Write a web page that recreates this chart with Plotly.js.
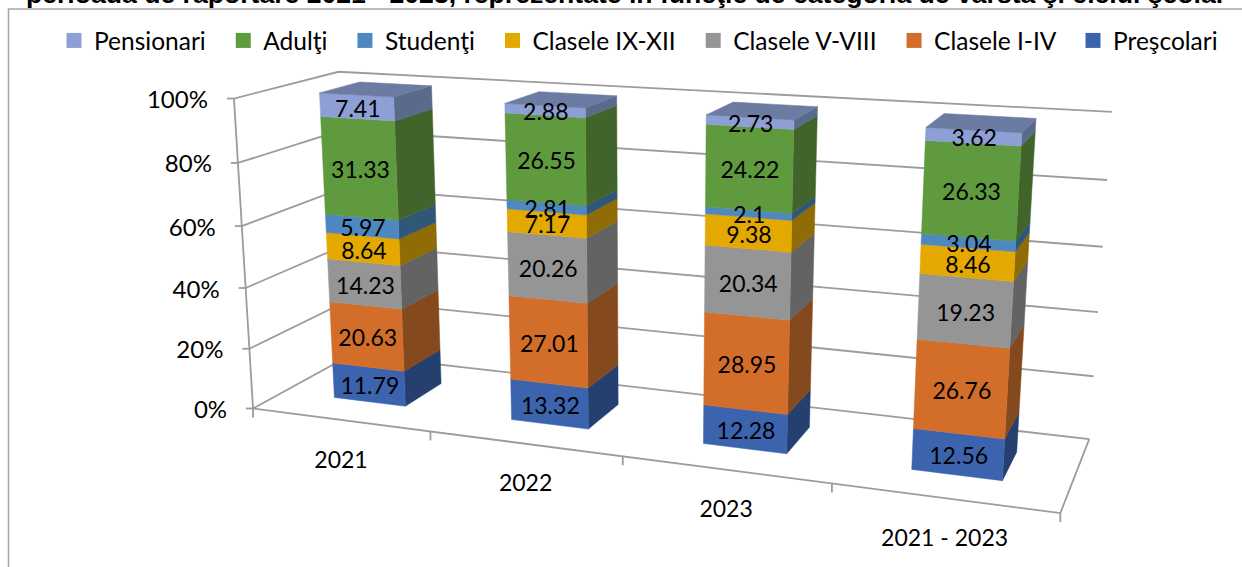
<!DOCTYPE html>
<html><head><meta charset="utf-8">
<script src="https://cdn.plot.ly/plotly-3.0.1.min.js"></script>
<style>html,body{margin:0;padding:0;background:#fff;overflow:hidden}</style>
</head><body><div id="chart" style="width:1242px;height:567px"></div>
<script>
// ---------- data ----------
const categories = ["2021", "2022", "2023", "2021 - 2023"];
const preScolari  = [11.79, 13.32, 12.28, 12.56];
const claseleI    = [20.63, 27.01, 28.95, 26.76];
const claseleV    = [14.23, 20.26, 20.34, 19.23];
const claseleIX   = [8.64, 7.17, 9.38, 8.46];
const studenti    = [5.97, 2.81, 2.1, 3.04];
const adulti      = [31.33, 26.55, 24.22, 26.33];
const pensionari  = [7.41, 2.88, 2.73, 3.62];
const yTicks = [0, 20, 40, 60, 80, 100];
const titleText = "perioada de raportare 2021 - 2023, reprezentate în funcţie de categoria de vârstă şi ciclul şcolar";

// bottom to top
const stack = [
  {name:"Preşcolari",   v:preScolari, front:"#3C64AE", side:"#25406F"},
  {name:"Clasele I-IV", v:claseleI,   front:"#D26D2A", side:"#84491D"},
  {name:"Clasele V-VIII",v:claseleV,  front:"#959595", side:"#636363"},
  {name:"Clasele IX-XII",v:claseleIX, front:"#E3A900", side:"#8F6C05"},
  {name:"Studenţi",     v:studenti,   front:"#4E88BE", side:"#2F5878"},
  {name:"Adulţi",       v:adulti,     front:"#5F9A3F", side:"#41642B"},
  {name:"Pensionari",   v:pensionari, front:"#8E9FD5", side:"#5A6A8A", top:"#6B7BA1"}
];

// ---------- perspective scale: plot-box (x 0..1, pct/100, depth 0..1) -> page px ----------
const boxAnchors = [
  [0,0,0,254,408],[1,0,0,1060,514],[1,0,1,1090,438],[0,0,1,350,355],
  [0,1,0,232,98],[0,1,1,340,72],[1,1,1,1112,112],
  [0,.8,0,238,163],[0,.6,0,243,226],[0,.4,0,245,288],[0,.2,0,250,349],
  [1,.8,1,1107,180],[1,.6,1,1102,247]
];
function solve(A,b){const n=b.length;for(let i=0;i<n;i++){let m=i;for(let r=i+1;r<n;r++)if(Math.abs(A[r][i])>Math.abs(A[m][i]))m=r;
  [A[i],A[m]]=[A[m],A[i]];[b[i],b[m]]=[b[m],b[i]];for(let r=i+1;r<n;r++){const f=A[r][i]/A[i][i];for(let c=i;c<n;c++)A[r][c]-=f*A[i][c];b[r]-=f*b[i];}}
  const x=Array(n).fill(0);for(let i=n-1;i>=0;i--){let s=b[i];for(let c=i+1;c<n;c++)s-=A[i][c]*x[c];x[i]=s/A[i][i];}return x;}
function fit(){const rows=[],rhs=[];boxAnchors.forEach(([X,Y,Z,u0,v0])=>{const u=u0/1000,v=v0/1000;
  rows.push([X,Y,Z,1,0,0,0,0,-u*X,-u*Y,-u*Z]);rhs.push(u);rows.push([0,0,0,0,X,Y,Z,1,-v*X,-v*Y,-v*Z]);rhs.push(v);});
  const n=11,A=[...Array(n)].map(()=>Array(n).fill(0)),b=Array(n).fill(0);
  rows.forEach((r,k)=>{for(let i=0;i<n;i++){b[i]+=r[i]*rhs[k];for(let j=0;j<n;j++)A[i][j]+=r[i]*r[j];}});return solve(A,b);}
const P=fit();
function proj(x,pct,z){const y=pct/100,w=P[8]*x+P[9]*y+P[10]*z+1;
  return [1000*(P[0]*x+P[1]*y+P[2]*z+P[3])/w,1000*(P[4]*x+P[5]*y+P[6]*z+P[7])/w];}

// ---------- bar layout ----------
const nCat=categories.length, barFrac=0.41, depth0=0.3, depth1=0.7;
const xEdges=i=>{const c=(i+.5)/nCat,h=barFrac/nCat/2;return [c-h,c+h];};

function poly(pts){const xs=[],ys=[];pts.forEach(p=>{xs.push(p[0]);ys.push(p[1]);});xs.push(pts[0][0],null);ys.push(pts[0][1],null);return [xs,ys];}
function fillTrace(polys,color){let x=[],y=[];polys.forEach(p=>{const[a,b]=poly(p);x=x.concat(a);y=y.concat(b);});
  return {x,y,type:"scatter",mode:"lines",fill:"toself",fillcolor:color,line:{color:color,width:0.5},hoverinfo:"skip",showlegend:false};}
function lineTrace(segs,w){let x=[],y=[];segs.forEach(s=>{s.forEach(p=>{x.push(p[0]);y.push(p[1]);});x.push(null);y.push(null);});
  return {x,y,type:"scatter",mode:"lines",line:{color:"#9C9C9C",width:w||2},hoverinfo:"skip",showlegend:false};}

const traces=[];
// walls and floor
const grid=[];
yTicks.forEach(t=>{grid.push([proj(0,t,0),proj(0,t,1),proj(1,t,1)]);grid.push([proj(0,t,0),(p=>[p[0]-7,p[1]])(proj(0,t,0))]);});
grid.push([proj(0,0,0),proj(0,100,0)]);
grid.push([proj(0,0,0),proj(1,0,0),proj(1,0,1)]);
for(let i=0;i<=nCat;i++){const p=proj(i/nCat,0,0);grid.push([p,[p[0],p[1]+9]]);}
traces.push(lineTrace(grid,1.8));

// bars
stack.forEach((s,k)=>{
  const fr=[],si=[],to=[];
  categories.forEach((c,i)=>{
    const base=stack.slice(0,k).reduce((a,t)=>a+t.v[i],0),top=base+s.v[i],[x0,x1]=xEdges(i);
    fr.push([proj(x0,base,depth0),proj(x1,base,depth0),proj(x1,top,depth0),proj(x0,top,depth0)]);
    si.push([proj(x1,base,depth0),proj(x1,base,depth1),proj(x1,top,depth1),proj(x1,top,depth0)]);
    if(s.top)to.push([proj(x0,top,depth0),proj(x1,top,depth0),proj(x1,top,depth1),proj(x0,top,depth1)]);
  });
  traces.push(fillTrace(si,s.side));
  traces.push(fillTrace(fr,s.front));
  if(s.top)traces.push(fillTrace(to,s.top));
});
const font={family:"Lato, Carlito, sans-serif",size:23,color:"#000"};
const axisFont={family:"Lato, Carlito, sans-serif",size:24,color:"#000"};
const legendFont={family:"Lato, Carlito, sans-serif",size:24.5,color:"#000"};
// value labels
stack.forEach((s,k)=>{
  const xs=[],ys=[],tx=[];
  categories.forEach((c,i)=>{
    const base=stack.slice(0,k).reduce((a,t)=>a+t.v[i],0),[x0,x1]=xEdges(i),p=proj((x0+x1)/2,base+s.v[i]/2,depth0);
    xs.push(p[0]+1);ys.push(p[1]+4);tx.push(String(s.v[i]));
  });
  traces.push({x:xs,y:ys,text:tx,type:"scatter",mode:"text",textposition:"middle center",textfont:font,hoverinfo:"skip",showlegend:false});
});
// axis labels
{const a=yTicks.map(t=>proj(0,t,0));
 traces.push({x:a.map(p=>p[0]-26),y:a.map(p=>p[1]+3.5),text:yTicks.map(t=>t+"%"),type:"scatter",mode:"text",textposition:"middle left",textfont:axisFont,hoverinfo:"skip",showlegend:false});
 const b=categories.map((c,i)=>proj((i+.5)/nCat,0,0));
 traces.push({x:b.map(p=>p[0]+1),y:b.map(p=>p[1]+42),text:categories,type:"scatter",mode:"text",textposition:"middle center",textfont:font,hoverinfo:"skip",showlegend:false});}
// legend entries, top of stack first
stack.slice().reverse().forEach(s=>traces.push({x:[null],y:[null],type:"scatter",mode:"markers",name:s.name+"\u00A0\u00A0",marker:{symbol:"square",size:15,color:s.front},hoverinfo:"skip"}));

Plotly.newPlot("chart",traces,{
  width:1242,height:567,margin:{l:0,r:0,t:0,b:0},paper_bgcolor:"#fff",plot_bgcolor:"#fff",
  title:{text:titleText,font:{family:"Liberation Sans, Arial, sans-serif",size:26.6,color:"#000",weight:700},x:626/1242,xanchor:"center",y:1,yanchor:"bottom",yref:"container",pad:{b:-3}},
  xaxis:{range:[0,1242],visible:false,fixedrange:true},
  yaxis:{range:[567,0],visible:false,fixedrange:true},
  legend:{orientation:"h",x:54/1242,xanchor:"left",y:1-18/567,yanchor:"top",font:legendFont,bgcolor:"rgba(0,0,0,0)",traceorder:"normal"},
  shapes:[{type:"path",xref:"x",yref:"y",path:"M8.5,567 L8.5,9 L1242,9",line:{color:"#A6A6A6",width:1.5}}],
  hovermode:false
},{displayModeBar:false,staticPlot:true});
</script></body></html>
